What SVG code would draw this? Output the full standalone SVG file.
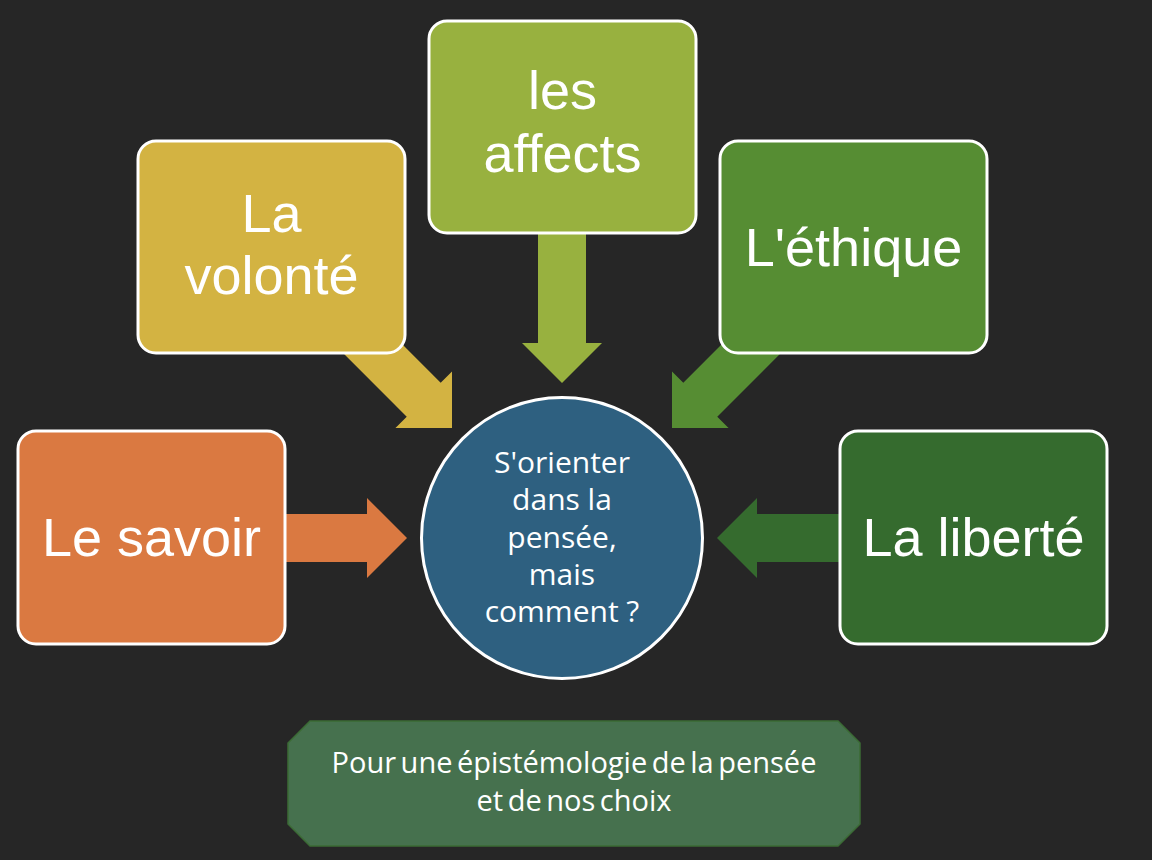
<svg xmlns="http://www.w3.org/2000/svg" width="1152" height="860" viewBox="0 0 1152 860">
  <style>
    .box { stroke: #ffffff; stroke-width: 3; }
    .lbl { font-family: "Open Sans", "Liberation Sans", sans-serif; fill: #ffffff; text-anchor: middle; }
    .big { font-family: "Liberation Sans", Arial, sans-serif; font-size: 54px; }
    .mid { font-size: 30px; }
    .small { font-size: 29px; word-spacing: -3px; }
  </style>
  <rect x="0" y="0" width="1152" height="860" fill="#262626"/>

  <g id="connectors">
    <path d="M -137,-24 H -40 V -40 L 0,0 L -40,40 V 24 H -137 Z" fill="#DA7941" transform="translate(407,538)"/>
    <path d="M -135,-24 H -40 V -40 L 0,0 L -40,40 V 24 H -135 Z" fill="#D3B342" transform="translate(452,428) rotate(45)"/>
    <path d="M -168,-24 H -40 V -40 L 0,0 L -40,40 V 24 H -168 Z" fill="#98B13F" transform="translate(562,383) rotate(90)"/>
    <path d="M -135,-24 H -40 V -40 L 0,0 L -40,40 V 24 H -135 Z" fill="#568D33" transform="translate(672,428) rotate(135)"/>
    <path d="M -138,-24 H -40 V -40 L 0,0 L -40,40 V 24 H -138 Z" fill="#356B2E" transform="translate(717,538) rotate(180)"/>
  </g>

  <g id="node-savoir">
    <rect class="box" x="18" y="431" width="267" height="213" rx="18" fill="#DA7941"/>
    <text class="lbl big" x="151.5" y="556">Le savoir</text>
  </g>
  <g id="node-volonte">
    <rect class="box" x="138" y="141" width="267" height="212" rx="18" fill="#D3B342"/>
    <text class="lbl big" x="271.5" y="232">La</text>
    <text class="lbl big" x="271.5" y="294">volonté</text>
  </g>
  <g id="node-affects">
    <rect class="box" x="429" y="21" width="267" height="212" rx="18" fill="#98B13F"/>
    <text class="lbl big" x="562.5" y="109">les</text>
    <text class="lbl big" x="562.5" y="172">affects</text>
  </g>
  <g id="node-ethique">
    <rect class="box" x="720" y="141" width="267" height="212" rx="18" fill="#568D33"/>
    <text class="lbl big" x="853.5" y="266">L'éthique</text>
  </g>
  <g id="node-liberte">
    <rect class="box" x="840" y="431" width="267" height="213" rx="18" fill="#356B2E"/>
    <text class="lbl big" x="973.5" y="556">La liberté</text>
  </g>
  <g id="node-center">
    <circle class="box" cx="562" cy="538" r="140.5" fill="#2E6080"/>
    <text class="lbl mid" x="562" y="473">S'orienter</text>
    <text class="lbl mid" x="562" y="510">dans la</text>
    <text class="lbl mid" x="562" y="547.5">pensée,</text>
    <text class="lbl mid" x="562" y="585">mais</text>
    <text class="lbl mid" x="562" y="622">comment ?</text>
  </g>
  <g id="node-caption">
    <polygon points="310,721 838,721 860,743 860,824 838,846 310,846 288,824 288,743" fill="#46714E" stroke="#3B6B35" stroke-width="1.5"/>
    <text class="lbl small" x="574" y="773">Pour une épistémologie de la pensée</text>
    <text class="lbl small" x="574" y="811">et de nos choix</text>
  </g>
</svg>
